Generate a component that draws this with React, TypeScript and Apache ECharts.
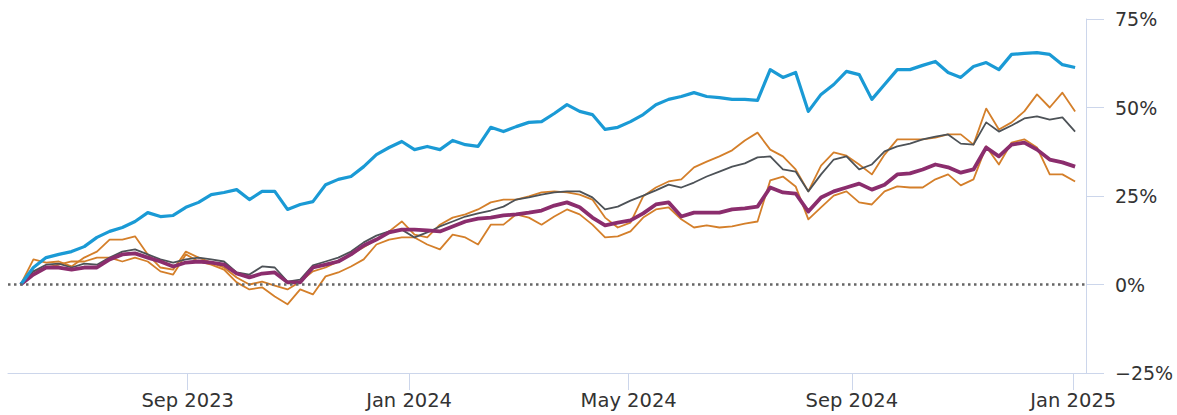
import React, { useEffect, useRef } from "react";
import * as echarts from "echarts";

const dates = [
  "2023-06-01", "2023-06-08", "2023-06-15", "2023-06-22", "2023-06-29",
  "2023-07-06", "2023-07-13", "2023-07-20", "2023-07-27",
  "2023-08-03", "2023-08-10", "2023-08-17", "2023-08-24", "2023-08-31",
  "2023-09-07", "2023-09-14", "2023-09-21", "2023-09-28",
  "2023-10-05", "2023-10-12", "2023-10-19", "2023-10-26",
  "2023-11-02", "2023-11-09", "2023-11-16", "2023-11-23", "2023-11-30",
  "2023-12-07", "2023-12-14", "2023-12-21", "2023-12-28",
  "2024-01-04", "2024-01-11", "2024-01-18", "2024-01-25",
  "2024-02-01", "2024-02-08", "2024-02-15", "2024-02-22", "2024-02-29",
  "2024-03-07", "2024-03-14", "2024-03-21", "2024-03-28",
  "2024-04-04", "2024-04-11", "2024-04-18", "2024-04-25",
  "2024-05-02", "2024-05-09", "2024-05-16", "2024-05-23", "2024-05-30",
  "2024-06-06", "2024-06-13", "2024-06-20", "2024-06-27",
  "2024-07-04", "2024-07-11", "2024-07-18", "2024-07-25",
  "2024-08-01", "2024-08-08", "2024-08-15", "2024-08-22", "2024-08-29",
  "2024-09-05", "2024-09-12", "2024-09-19", "2024-09-26",
  "2024-10-03", "2024-10-10", "2024-10-17", "2024-10-24", "2024-10-31",
  "2024-11-07", "2024-11-14", "2024-11-21", "2024-11-28",
  "2024-12-05", "2024-12-12", "2024-12-19", "2024-12-26",
  "2025-01-02",
];

const blueValues = [
  0, 4.8, 7.6, 8.5, 9.3, 10.7, 13.3, 15.0, 16.1, 17.8,
  20.3, 19.2, 19.5, 21.8, 23.2, 25.4, 26.0, 26.8, 24.0, 26.3,
  26.3, 21.2, 22.6, 23.4, 28.2, 29.7, 30.5, 33.3, 36.7, 38.7,
  40.4, 38.1, 39.0, 38.1, 40.7, 39.5, 39.0, 44.4, 43.2, 44.6,
  45.8, 46.0, 48.3, 50.8, 48.9, 48.0, 43.8, 44.4, 46.0, 48.0,
  50.8, 52.3, 53.1, 54.2, 53.1, 52.8, 52.3, 52.3, 52.0, 60.7,
  58.5, 59.9, 48.9, 53.7, 56.5, 60.2, 59.3, 52.3, 56.5, 60.7,
  60.7, 61.9, 63.0, 59.9, 58.5, 61.6, 62.7, 60.7, 65.0, 65.3,
  65.5, 65.0, 62.1, 61.3,
];

const purpleValues = [
  0, 2.8, 4.8, 4.8, 4.2, 4.8, 4.8, 7.1, 8.5, 8.8,
  7.6, 6.5, 5.1, 6.2, 6.5, 6.2, 5.6, 3.1, 2.0, 3.1,
  3.4, 0.6, 0.6, 4.8, 5.6, 6.5, 8.5, 11.0, 12.7, 14.7,
  15.5, 15.5, 15.3, 15.0, 16.4, 17.8, 18.6, 18.9, 19.5, 19.8,
  20.3, 20.9, 22.3, 23.2, 21.8, 18.9, 16.7, 17.5, 18.1, 20.1,
  22.6, 23.2, 19.2, 20.3, 20.3, 20.3, 21.2, 21.5, 22.0, 27.4,
  26.0, 25.7, 20.6, 24.6, 26.3, 27.4, 28.5, 26.8, 28.2, 31.1,
  31.4, 32.5, 33.9, 33.1, 31.6, 32.5, 38.7, 36.2, 39.5, 40.1,
  38.1, 35.3, 34.5, 33.3,
];

const grayValues = [
  0, 3.7, 5.6, 5.9, 4.8, 5.9, 5.6, 7.6, 9.3, 9.9,
  8.5, 7.1, 6.2, 7.1, 7.6, 7.1, 6.5, 3.4, 2.8, 5.1,
  4.8, 0.8, 1.4, 5.4, 6.5, 7.6, 9.3, 11.9, 13.8, 15.0,
  15.5, 13.3, 14.7, 16.4, 17.8, 19.2, 20.1, 20.9, 22.0, 24.0,
  24.6, 25.4, 26.0, 26.3, 26.3, 24.6, 21.2, 22.0, 23.7, 25.1,
  26.6, 28.2, 27.4, 28.8, 30.5, 31.9, 33.3, 34.2, 35.9, 36.2,
  32.5, 31.9, 26.3, 31.1, 35.3, 36.2, 32.5, 33.9, 37.6, 39.0,
  39.8, 41.0, 41.8, 42.4, 39.8, 39.5, 45.8, 43.2, 44.9, 46.9,
  47.5, 46.6, 47.2, 43.2,
];

const orangeHighValues = [
  0, 7.1, 6.2, 6.5, 5.1, 7.6, 9.3, 12.7, 12.7, 13.6,
  8.5, 4.8, 4.2, 9.3, 7.6, 6.2, 4.8, 2.0, 0, 0.8,
  -0.3, -1.4, 0.8, 3.7, 4.8, 6.5, 8.5, 10.5, 12.7, 15.0,
  17.8, 14.1, 13.3, 16.9, 18.9, 19.8, 21.2, 23.2, 24.0, 24.0,
  24.9, 26.0, 26.3, 26.0, 25.4, 24.0, 18.9, 16.1, 17.5, 24.9,
  27.4, 29.1, 29.7, 33.1, 34.7, 36.2, 37.9, 40.7, 42.9, 38.1,
  36.2, 32.5, 26.3, 33.6, 37.3, 36.4, 33.9, 31.1, 36.7, 41.0,
  41.0, 41.0, 41.5, 42.4, 42.4, 39.5, 49.7, 43.8, 45.8, 48.9,
  53.7, 50.0, 54.2, 48.9,
];

const orangeLowValues = [
  0, 3.7, 4.8, 5.6, 6.5, 6.5, 7.6, 7.6, 6.5, 7.6,
  6.5, 3.7, 2.8, 8.5, 6.5, 5.6, 4.2, 0.6, -1.4, -0.8,
  -3.4, -5.6, -1.4, -2.8, 2.3, 3.4, 5.1, 7.1, 11.3, 12.7,
  13.3, 13.3, 11.3, 9.9, 14.1, 13.3, 11.3, 16.9, 16.9, 19.8,
  18.9, 16.9, 19.2, 21.2, 19.8, 16.9, 13.3, 13.6, 15.0, 18.9,
  21.2, 21.8, 18.4, 16.1, 16.7, 16.1, 16.4, 17.2, 17.8, 29.4,
  30.5, 27.7, 18.4, 21.8, 25.1, 26.3, 23.2, 22.6, 26.3, 27.7,
  27.4, 27.4, 29.7, 31.1, 28.0, 29.7, 39.0, 33.9, 40.1, 41.0,
  38.7, 31.1, 31.1, 29.1,
];

const xTickDates = ["2023-09-01", "2024-01-01", "2024-05-01", "2024-09-01", "2025-01-01"];
const xMinDate = "2023-05-25";
const xMaxDate = "2025-01-08";
const monthNames = ["Jan", "Feb", "Mar", "Apr", "May", "Jun", "Jul", "Aug", "Sep", "Oct", "Nov", "Dec"];

const toTime = (s: string) => {
  const [y, m, d] = s.split("-").map(Number);
  return new Date(y, m - 1, d).getTime();
};

const pairs = (vals: number[]) => dates.map((d, i) => [toTime(d), vals[i]]);

export default function App() {
  const ref = useRef<HTMLDivElement>(null);
  useEffect(() => {
    if (!ref.current) return;
    const chart = echarts.init(ref.current, null, { renderer: "svg" });
    const font = "DejaVu Sans";
    const axisColor = "#ccd6eb";
    const tickTimes = xTickDates.map(toTime);
    const lineSeries = (name: string, vals: number[], color: string, width: number, extra: any = {}) => ({
      name,
      type: "line",
      data: pairs(vals),
      showSymbol: false,
      symbol: "none",
      lineStyle: { color, width, join: "round" },
      itemStyle: { color },
      emphasis: { disabled: true },
      ...extra,
    });
    chart.setOption({
      animation: false,
      grid: { left: 8, right: 91, top: 19, bottom: 42, containLabel: false, outerBoundsMode: "none" },
      xAxis: {
        type: "value",
        min: toTime(xMinDate),
        max: toTime(xMaxDate),
        axisLine: { show: true, onZero: false, lineStyle: { color: axisColor, width: 1 } },
        axisTick: { show: true, length: 17, lineStyle: { color: axisColor }, customValues: tickTimes },
        axisLabel: {
          customValues: tickTimes,
          margin: 17,
          color: "#333",
          fontFamily: font,
          fontSize: 19.5,
          formatter: (v: number) => {
            const d = new Date(v);
            return monthNames[d.getMonth()] + " " + d.getFullYear();
          },
        },
        splitLine: { show: false },
      },
      yAxis: {
        type: "value",
        position: "right",
        min: -25,
        max: 75,
        interval: 25,
        axisLine: { show: true, lineStyle: { color: axisColor, width: 1 } },
        axisTick: { show: true, length: 18, lineStyle: { color: axisColor } },
        axisLabel: {
          margin: 29,
          color: "#333",
          fontFamily: font,
          fontSize: 19,
          formatter: (v: number) => (v < 0 ? "\u2212" + Math.abs(v) : String(v)) + "%",
        },
        splitLine: { show: false },
      },
      series: [
        lineSeries("Orange low", orangeLowValues, "#d47f2a", 1.8, {
          markLine: {
            silent: true,
            symbol: "none",
            label: { show: false },
            lineStyle: { color: "#666666", width: 2.5, type: [2.5, 3.5] },
            data: [{ yAxis: 0 }],
          },
        }),
        lineSeries("Orange high", orangeHighValues, "#d47f2a", 1.8),
        lineSeries("Gray", grayValues, "#4d5257", 1.8),
        lineSeries("Purple", purpleValues, "#8b2d6d", 3.8),
        lineSeries("Blue", blueValues, "#1a9ad5", 3.2),
      ],
    });
    return () => chart.dispose();
  }, []);
  return (
    <div
      ref={ref}
      style={{ position: "absolute", left: 0, top: 0, width: 1177, height: 415 }}
    />
  );
}
